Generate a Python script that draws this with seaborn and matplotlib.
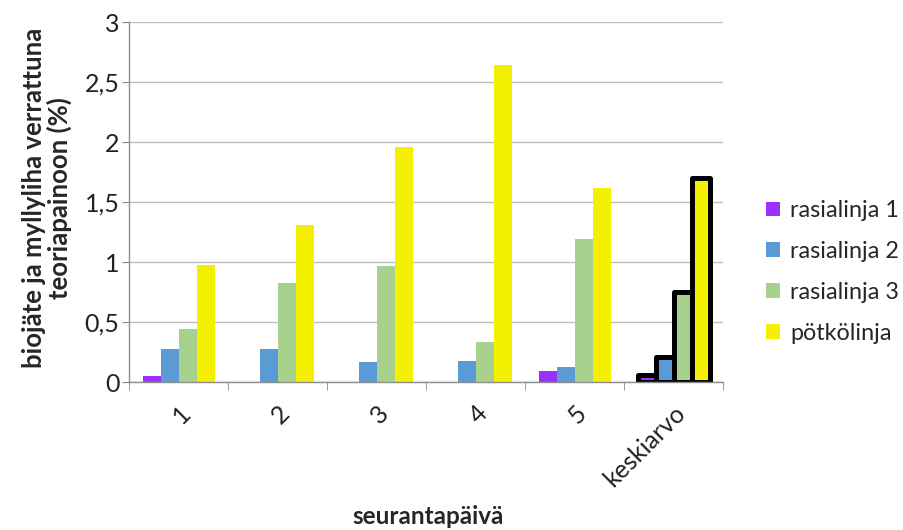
import matplotlib
matplotlib.use("Agg")
import matplotlib.pyplot as plt
import seaborn as sns
import pandas as pd
import numpy as np
from matplotlib.ticker import FixedLocator, FuncFormatter
from matplotlib.patches import Patch

categories = ["1", "2", "3", "4", "5", "keskiarvo"]
series = ["rasialinja 1", "rasialinja 2", "rasialinja 3", "pötkölinja"]
rasialinja1 = [0.05, 0.0, 0.0, 0.0, 0.09, 0.06]
rasialinja2 = [0.28, 0.28, 0.165, 0.175, 0.13, 0.206]
rasialinja3 = [0.44, 0.825, 0.965, 0.335, 1.19, 0.751]
potkolinja = [0.975, 1.31, 1.96, 2.64, 1.62, 1.70]
colors = ["#9B30FF", "#5B9BD5", "#A9D18E", "#F5EF00"]
yticks = [0, 0.5, 1, 1.5, 2, 2.5, 3]

rows = []
for name, vals in zip(series, [rasialinja1, rasialinja2, rasialinja3, potkolinja]):
    for c, v in zip(categories, vals):
        rows.append({"päivä": c, "sarja": name, "arvo": v})
df = pd.DataFrame(rows)

sns.set_style("white")
plt.rcParams["font.family"] = ["Lato", "DejaVu Sans"]

fig = plt.figure(figsize=(9.04, 5.30), dpi=100)
ax = fig.add_axes([0.143, 0.279, 0.657, 0.679])

sns.barplot(data=df, x="päivä", y="arvo", hue="sarja", order=categories,
            hue_order=series, palette=colors, width=0.73, saturation=1,
            errorbar=None, ax=ax, legend=False, linewidth=0)

for cont in ax.containers:
    bar = cont.patches[-1]
    bar.set_edgecolor("black")
    bar.set_linewidth(3.6)
    bar.set_joinstyle("round")

ax.set_ylim(0, 3)
ax.set_xlim(-0.5, len(categories) - 0.5)
ax.set_yticks(yticks)
ax.yaxis.set_major_formatter(FuncFormatter(lambda v, p: f"{v:g}".replace(".", ",")))
ax.yaxis.grid(True, color="#BFBFBF", linewidth=1.0)
ax.set_axisbelow(True)
for s in ["top", "right"]:
    ax.spines[s].set_visible(False)
for s in ["left", "bottom"]:
    ax.spines[s].set_color("#8C8C8C")
    ax.spines[s].set_linewidth(1.0)

ax.tick_params(axis="y", which="major", left=True, length=5, color="#8C8C8C",
               labelsize=18, labelcolor="#222222", pad=2)
ax.xaxis.set_minor_locator(FixedLocator(np.arange(-0.5, len(categories), 1.0)))
ax.tick_params(axis="x", which="minor", bottom=True, length=6, color="#8C8C8C")
ax.tick_params(axis="x", which="major", bottom=False, labelsize=18,
               labelcolor="#222222", pad=10)
for lab in ax.get_xticklabels():
    lab.set_rotation(45)
    lab.set_ha("right")
    lab.set_rotation_mode("anchor")

ax.set_xlabel("")
ax.set_ylabel("")
fig.text(0.473, 0.004, "seurantapäivä", ha="center", va="bottom",
         fontsize=17.5, fontweight="bold")
fig.text(0.052, 0.626, "biojäte ja myllyliha verrattuna\nteoriapainoon (%)",
         rotation=90, ha="center", va="center", fontsize=18.5,
         fontweight="bold", linespacing=1.05)

handles = [Patch(facecolor=c, edgecolor="none") for c in colors]
fig.legend(handles, series, loc="center left", bbox_to_anchor=(0.847, 0.487),
           frameon=False, fontsize=16.8, labelspacing=0.85, handlelength=0.6,
           handleheight=0.6, handletextpad=0.45, borderpad=0, borderaxespad=0)

fig.savefig("out.png", dpi=100)
